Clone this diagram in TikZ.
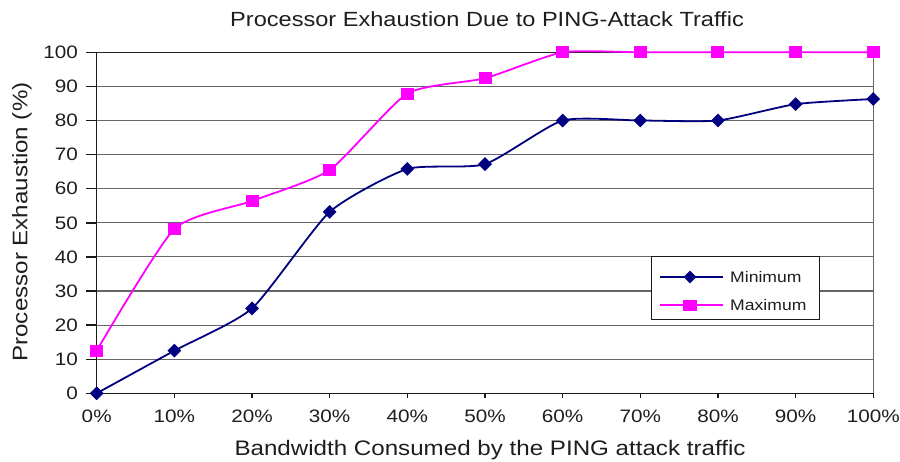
\documentclass[tikz,border=0pt]{standalone}
\usepackage{fontspec}
\setmainfont{Liberation Sans}[FakeStretch=1.15]
\usetikzlibrary{shapes.geometric}
\definecolor{minc}{RGB}{0,0,128}
\definecolor{maxc}{RGB}{255,0,255}
\definecolor{txt}{RGB}{30,30,30}
\begin{document}
\begin{tikzpicture}[x=1pt,y=-1pt,
  gridl/.style={draw=black!60,line width=1.1pt},
  axisl/.style={draw=black!90,line width=1.4pt},
  tickl/.style={font=\fontsize{18}{20}\selectfont,text=txt,inner sep=0pt},
  titl/.style={font=\fontsize{20.5}{23}\selectfont,text=txt,inner sep=0pt},
  axtl/.style={font=\fontsize{21}{24}\selectfont,text=txt,inner sep=0pt},
  legl/.style={font=\fontsize{15.3}{17}\selectfont,text=txt,inner sep=0pt},
  minline/.style={draw=minc,line width=1.8pt},
  maxline/.style={draw=maxc,line width=1.8pt},
  dmark/.style={diamond,fill=minc,draw=none,minimum width=14pt,minimum height=14pt,inner sep=0pt},
  smark/.style={rectangle,fill=maxc,draw=none,minimum width=13pt,minimum height=12pt,inner sep=0pt}]
\useasboundingbox (0,0) rectangle (900,461);
\fill[white] (0,0) rectangle (900,461);
\node[titl,anchor=base] (title) at (487,26) {Processor Exhaustion Due to PING-Attack Traffic};
\node[axtl,anchor=base] (xtitle) at (490,455) {Bandwidth Consumed by the PING attack traffic};
\node[axtl,rotate=90] (ytitle) at (22,222) {Processor Exhaustion (\%)};
\begin{scope}[shift={(96.7,393.3)},x=77.66pt,y=3.41pt]
  \foreach \v in {10,20,...,90} \draw[gridl] (0,\v) -- (10,\v);
  \draw[draw=black!85,line width=1.3pt] (0,100) -- (10,100);
  \draw[gridl] (10,0) -- (10,100);
  \draw[axisl] (0,100) -- (0,0) -- (10,0);
  \foreach \v in {0,10,...,100} {
    \draw[axisl] (0,\v) -- ++(-10.5pt,0);
    \node[tickl,anchor=east] (yl\v) at ([xshift=-18.7pt]0,\v) {\v};
  }
  \foreach \i in {0,...,10} {
    \draw[axisl] (\i,0) -- ++(0,-5pt);
    \pgfmathtruncatemacro\pc{\i*10}
    \node[tickl,anchor=base] (xl\i) at ([yshift=-28.7pt]\i,0) {\pc\%};
  }
  \foreach \i/\v in {0/0,1/12.5,2/24.9,3/53.2,4/65.8,5/67.2,6/80,7/80,8/80,9/84.8,10/86.3}
    \coordinate (a\i) at (\i,\v);
  \foreach \i/\v in {0/12.5,1/48.2,2/56.4,3/65.5,4/87.9,5/92.4,6/100,7/100,8/100,9/100,10/100}
    \coordinate (b\i) at (\i,\v);
  \draw[minline] plot[smooth,tension=0.35] coordinates {(a0) (a1) (a2) (a3) (a4) (a5) (a6) (a7) (a8) (a9) (a10)};
  \draw[maxline] plot[smooth,tension=0.35] coordinates {(b0) (b1) (b2) (b3) (b4) (b5) (b6) (b7) (b8) (b9) (b10)};
  \foreach \i in {0,...,10} {
    \node[dmark] (da\i) at (a\i) {};
    \node[smark] (sb\i) at (b\i) {};
  }
\end{scope}
\node[draw=black!90,line width=1pt,fill=white,minimum width=168pt,minimum height=63pt,inner sep=0pt] (leg) at (735.8,287.5) {};
\coordinate (l1a) at (660,277);
\coordinate (l1b) at (723,277);
\coordinate (l2a) at (660,305);
\coordinate (l2b) at (723,305);
\draw[minline] (l1a) -- (l1b);
\draw[maxline] (l2a) -- (l2b);
\node[dmark,minimum width=13pt,minimum height=13pt] (ld) at (690,277) {};
\node[smark,minimum width=14pt,minimum height=11pt] (ls) at (690,305) {};
\node[legl,anchor=west] (lt1) at (730,277.5) {Minimum};
\node[legl,anchor=west] (lt2) at (730,305.5) {Maximum};
\end{tikzpicture}
\end{document}
